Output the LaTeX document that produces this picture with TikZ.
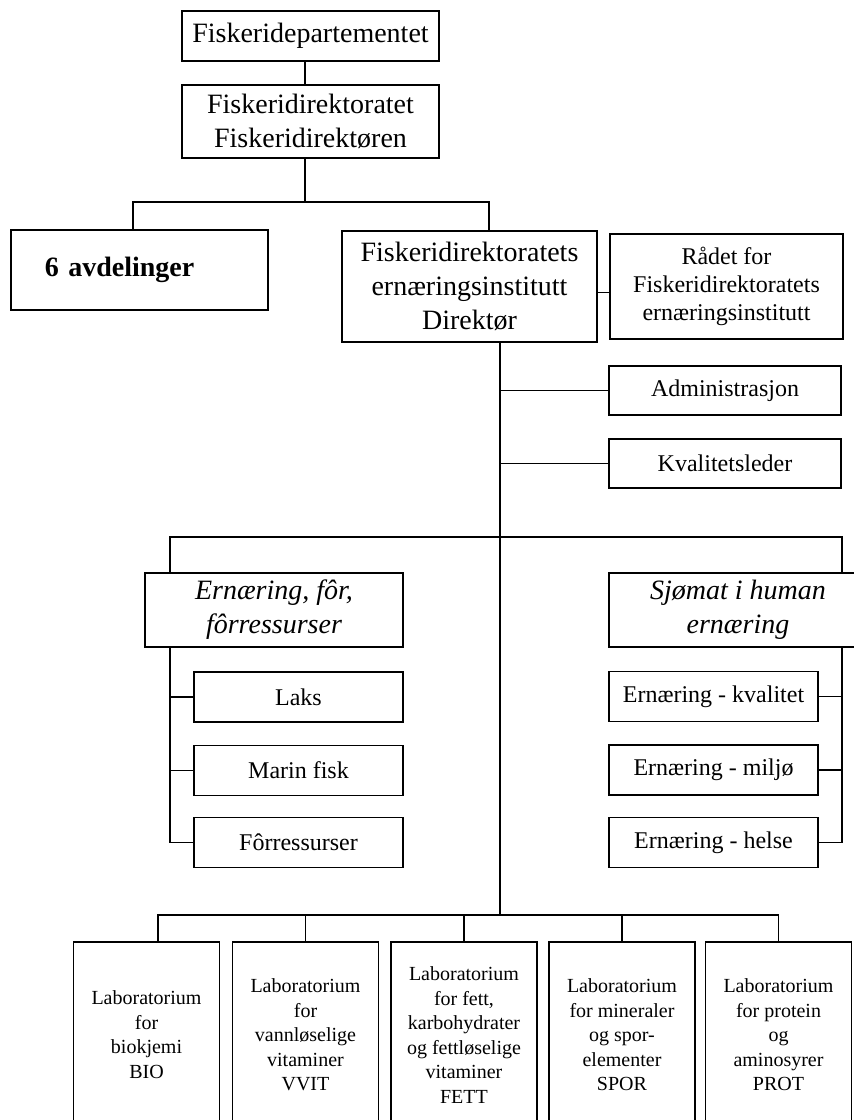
\documentclass[tikz,border=0pt]{standalone}
\usepackage{fontspec}
\setmainfont{Liberation Serif}
\newcommand{\orgbig}{\fontsize{28}{34}\selectfont}
\newcommand{\orgmid}{\fontsize{24}{28}\selectfont}
\newcommand{\orglab}{\fontsize{20}{24.5}\selectfont}
\tikzstyle{office} = [
  draw,
  rectangle,
  line width=1.6pt,
  inner sep=2pt,
  align=center,
  font=\orgbig,
]
\tikzstyle{staff} = [
  office,
  font=\orgmid,
]
\tikzstyle{group} = [
  office,
  minimum width=258pt,
  minimum height=74pt,
  font=\orgbig\itshape,
]
\tikzstyle{lab} = [
  office,
  anchor=north,
  minimum width=146pt,
  minimum height=186pt,
  font=\orglab,
]
\tikzstyle{link} = [
  line width=1.5pt,
]

\begin{document}
\begin{tikzpicture}[
    x=1pt,
    y=-1pt,
  ]
  \useasboundingbox (0,0) rectangle (854,1120);
  \clip (0,0) rectangle (854,1120);

  % top of the chart
  \node[
    office,
    minimum width=257pt,
    minimum height=50pt,
  ](dep) at (310.5,36) {Fiskeridepartementet};
  \node[
    office,
    minimum width=257pt,
    minimum height=73pt,
  ](dir) at (310.5,121.5) {Fiskeridirektoratet\\Fiskeridirektøren};
  \node[
    office,
    font=\orgbig\bfseries,
    text width=189pt,
    inner xsep=34pt,
    align=left,
    minimum height=80pt,
  ](avd) at (139.5,270) {6 avdelinger};
  \node[
    office,
    minimum width=255pt,
    minimum height=111pt,
  ](inst) at (469.5,286.5) {Fiskeridirektoratets\\ernæringsinstitutt\\Direktør};
  \node[
    staff,
    minimum width=233pt,
    minimum height=105pt,
  ](raad) at (726.5,286.5) {Rådet for\\Fiskeridirektoratets\\ernæringsinstitutt};
  \node[
    staff,
    minimum width=232pt,
    minimum height=49pt,
  ](adm) at (725,390.5) {Administrasjon};
  \node[
    staff,
    minimum width=232pt,
    minimum height=49pt,
  ](kval) at (725,463.5) {Kvalitetsleder};

  % the two programme areas
  \node[group](ern) at (274,610) {Ernæring, fôr,\\fôrressurser};
  \node[group](sjo) at (738,610) {Sjømat i human\\ernæring};
  \foreach \name/\y/\txt in {
      laks/697/Laks,
      marin/770.5/Marin fisk,
      forr/842.5/Fôrressurser} {
    \node[staff, minimum width=209pt, minimum height=50pt]
      (\name) at (298.5,\y) {\txt};
  }
  \foreach \name/\y/\txt in {
      kvalitet/696.5/Ernæring - kvalitet,
      miljo/770/Ernæring - miljø,
      helse/842.5/Ernæring - helse} {
    \node[staff, minimum width=209pt, minimum height=50pt]
      (\name) at (713.5,\y) {\txt};
  }

  % laboratories
  \node[lab](lab1) at (146.5,941) {Laboratorium\\for\\biokjemi\\BIO};
  \node[lab](lab2) at (305.5,941) {Laboratorium\\for\\vannløselige\\vitaminer\\VVIT};
  \node[lab](lab3) at (464,941) {Laboratorium\\for fett,\\karbohydrater\\og fettløselige\\vitaminer\\FETT};
  \node[lab](lab4) at (622,941) {Laboratorium\\for mineraler\\og spor-\\elementer\\SPOR};
  \node[lab](lab5) at (778.5,941) {Laboratorium\\for protein\\og\\aminosyrer\\PROT};

  \coordinate (hubA) at (305,202);
  \coordinate (hubB) at (500,537);
  \coordinate (hubC) at (500,915);

  \draw[link] ([xshift=-5.5pt]dep.south) -- ([xshift=-5.5pt]dir.north);
  \draw[link] (dir.south -| hubA) -- (hubA);
  \draw[link] ([xshift=-6.5pt]avd.north) |- (hubA) -| ([xshift=19.5pt]inst.north);
  \draw[link] ([yshift=-6pt]inst.east) -- ([yshift=-6pt]raad.west);
  \draw[link] ([xshift=30.5pt]inst.south) -- (hubC);
  \draw[link] (adm.west -| hubB) -- (adm.west);
  \draw[link] (kval.west -| hubB) -- (kval.west);
  \draw[link] ([xshift=-104pt]ern.north) |- (hubB) -| ([xshift=104pt]sjo.north);
  \foreach \name in {laks,marin,forr}
    \draw[link] ([xshift=-104pt]ern.south) |- (\name.west);
  \foreach \name in {kvalitet,miljo,helse}
    \draw[link] ([xshift=104pt]sjo.south) |- (\name.east);
  \draw[link] ([xshift=11.5pt]lab1.north) |- (hubC) -| (lab5.north);
  \foreach \name in {lab2,lab3,lab4}
    \draw[link] (\name.north) -- (\name.north |- hubC);
\end{tikzpicture}
\end{document}
